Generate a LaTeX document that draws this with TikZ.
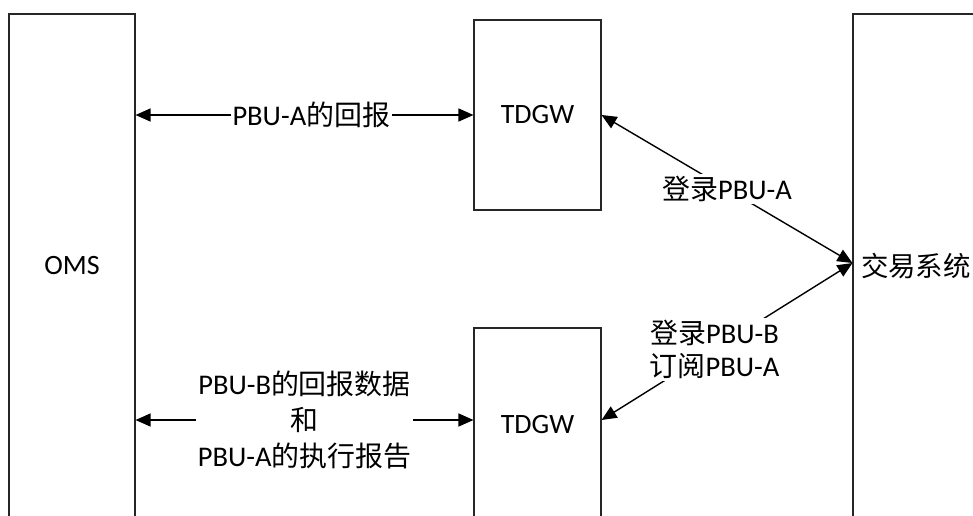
\documentclass[tikz,border=0pt]{standalone}
\usepackage{fontspec}
\setmainfont{Carlito}
\newfontfamily\cjk[Scale=0.98]{Noto Sans CJK SC}
\usetikzlibrary{arrows.meta}
\begin{document}
\begin{tikzpicture}[x=1pt,y=-1pt,
  box/.style={draw=black!85, line width=1.1pt, inner sep=0pt, font=\fontsize{28}{33}\selectfont},
  conn/.style={{Triangle[length=15pt,width=13pt]}-{Triangle[length=15pt,width=13pt]}, line width=1.4pt, black},
  lbl/.style={fill=white, inner sep=2pt, align=center, font=\fontsize{28.5}{36}\selectfont},
  lbls/.style={fill=white, inner sep=2pt, align=center, font=\fontsize{28.5}{33}\selectfont}]
\useasboundingbox (0,0) rectangle (973,515);
\clip (0,0) rectangle (973,515);
\node[box, minimum width=126pt, minimum height=504pt] (oms) at (72,266) {OMS};
\node[box, minimum width=127pt, minimum height=190pt] (tdgwa) at (537.5,115) {TDGW};
\node[box, minimum width=127pt, minimum height=192pt] (tdgwb) at (537.5,424) {TDGW};
\node[box, minimum width=140pt, minimum height=504pt, text width=124pt, align=left] (exch) at (923,266) {{\cjk 交易系统}};
\coordinate (bw) at ([yshift=4pt]tdgwb.west);
\coordinate (be) at ([yshift=4pt]tdgwb.east);
\coordinate (xw) at ([yshift=3pt]exch.west);
\draw[conn] (oms.east |- tdgwa.west) -- (tdgwa.west)
  node[lbl, pos=0.52] {PBU-A{\cjk 的回报}};
\draw[conn] (oms.east |- bw) -- (bw)
  node[lbl, midway] {PBU-B{\cjk 的回报数据}\\{\cjk 和}\\PBU-A{\cjk 的执行报告}};
\draw[conn] (tdgwa.east) -- (xw)
  node[lbls, midway] {{\cjk 登录}PBU-A};
\draw[conn] (xw) -- (be)
  node[lbls, pos=0.55] {{\cjk 登录}PBU-B\\{\cjk 订阅}PBU-A};
\end{tikzpicture}
\end{document}
